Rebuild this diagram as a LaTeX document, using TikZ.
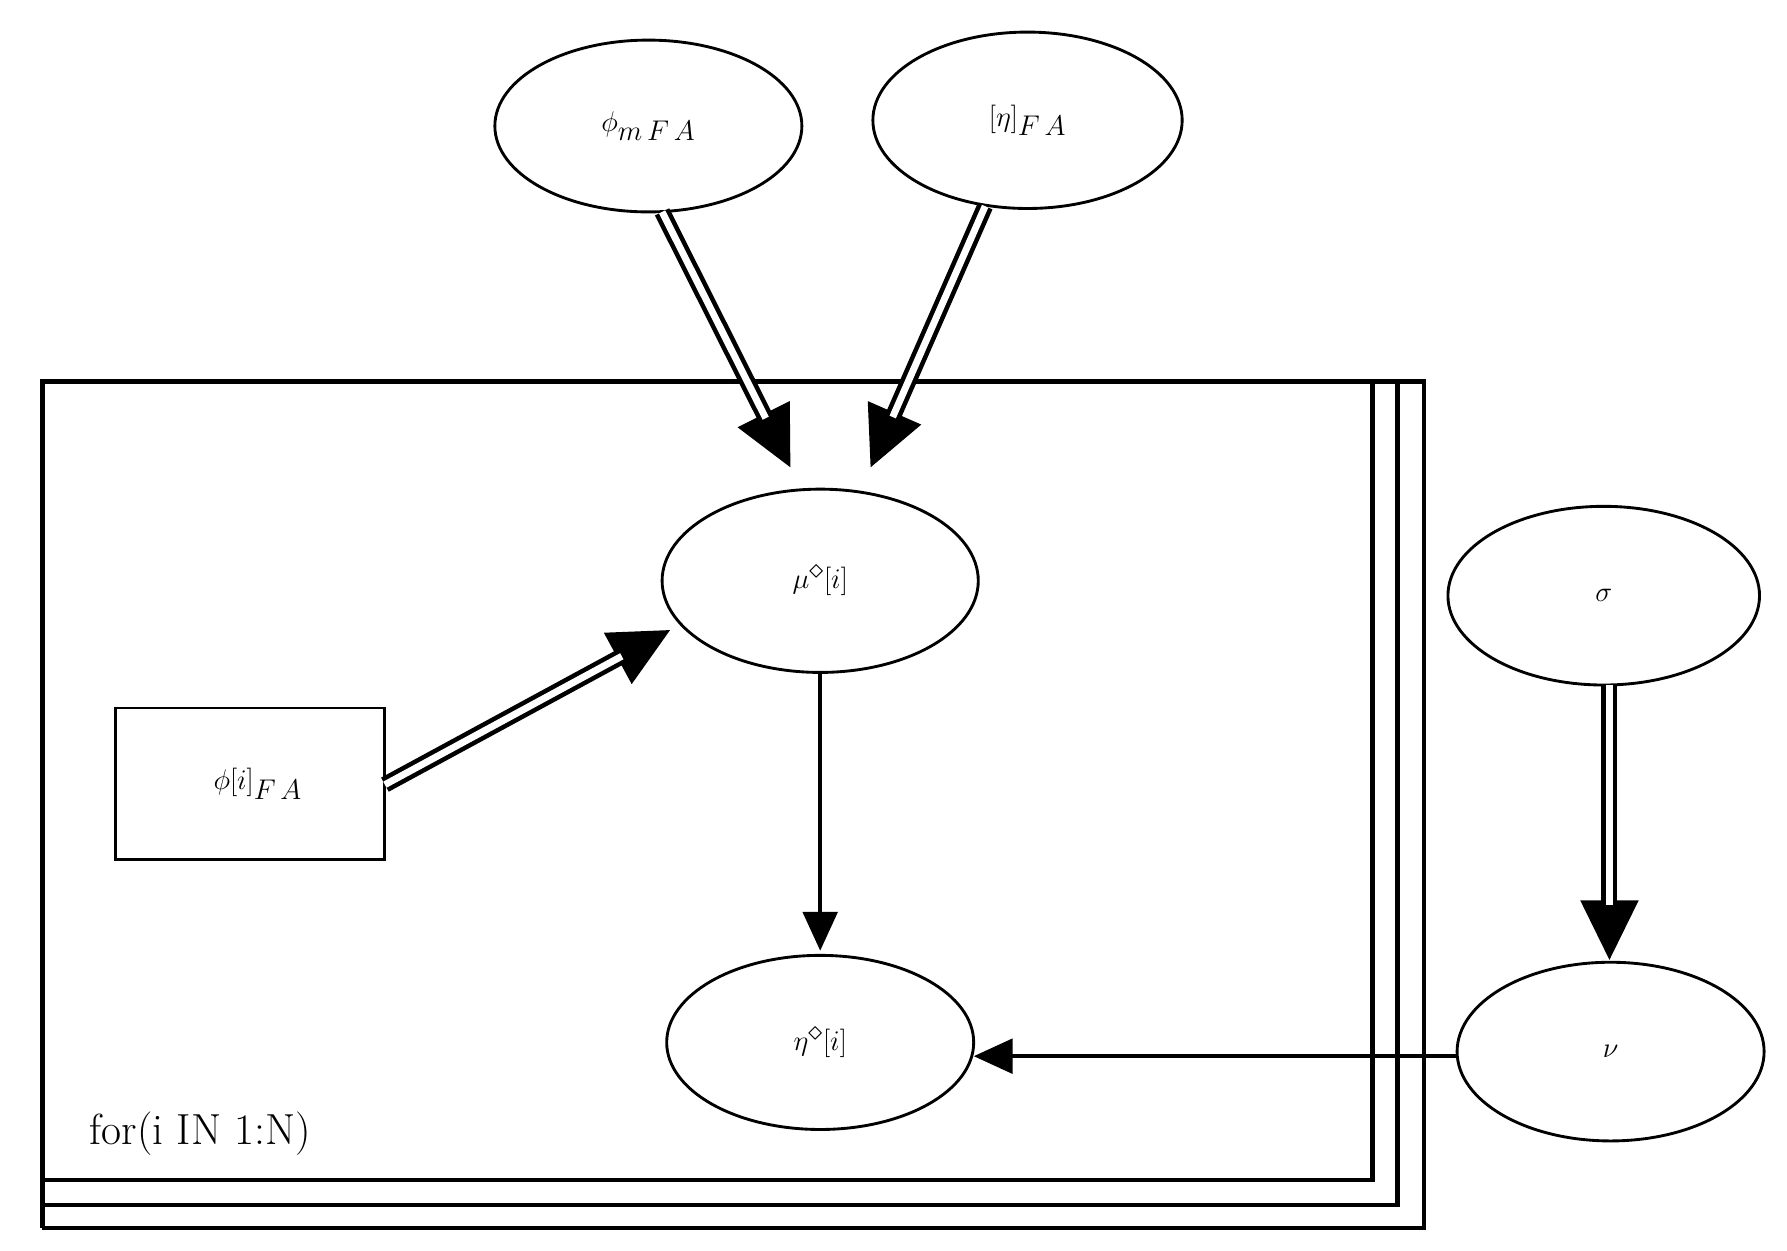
\documentclass[tikz,border=0pt]{standalone}
\usetikzlibrary{arrows.meta}
\begin{document}
\begin{tikzpicture}[x=1pt,y=-1pt,
  ell/.style={draw,ellipse,line width=2.5pt,minimum width=#1},
  lab/.style={font=\fontsize{44}{52}\selectfont},
  tip/.style={line width=4pt,-{Triangle[length=52pt,width=50pt]}},
  dbl/.style={line width=4pt,double,double distance=6pt,shorten >=48pt},
  sgl/.style={line width=4pt,-{Triangle[length=34pt,width=30pt]}}]
\useasboundingbox (0,0) rectangle (1560,1092);
\draw[line width=2.5pt] (566,110) ellipse [x radius=134,y radius=75];
\node[lab] (phim) at (566,110) {$\phi_{m\,F\,A}$};
\draw[line width=2.5pt] (897,105) ellipse [x radius=135,y radius=77];
\node[lab] (etafa) at (897,105) {$[\eta]_{F\,A}$};
\draw[line width=2.5pt] (716,507) ellipse [x radius=138,y radius=80];
\node[lab,font=\fontsize{54}{60}\selectfont] (mu) at (716,507) {$\mu^{\diamond}[i]$};
\draw[line width=2.5pt] (1400,520) ellipse [x radius=136,y radius=78];
\node[lab,font=\fontsize{60}{66}\selectfont] (sigma) at (1400,520) {$\sigma$};
\draw[line width=2.5pt] (1406,918) ellipse [x radius=134,y radius=78];
\node[lab,font=\fontsize{60}{66}\selectfont] (nu) at (1406,918) {$\nu$};
\draw[line width=2.5pt] (716,910) ellipse [x radius=134,y radius=76];
\node[lab,font=\fontsize{54}{60}\selectfont] (eta) at (716,910) {$\eta^{\diamond}[i]$};
\draw[line width=2.5pt] (101,618) rectangle (336,750);
\node[lab] (phii) at (225,684) {$\phi[i]_{F\,A}$};
% plate
\draw[line width=4pt] (37,333) rectangle (1198,1030);
\draw[line width=4pt] (37,1052) -- (1220,1052) -- (1220,333);
\draw[line width=4pt] (37,1072) -- (1243,1072) -- (1243,333) -- (1198,333);
\draw[line width=4pt] (37,1030) -- (37,1072);
\node[font=\fontsize{38}{44}\selectfont,anchor=west] (plab) at (75,990) {for(i IN 1:N)};
% connectors
\coordinate (a1) at (578,185); \coordinate (b1) at (690,408);
\coordinate (a2) at (860,180); \coordinate (b2) at (760,408);
\coordinate (a3) at (336,685); \coordinate (b3) at (585,550);
\coordinate (a4) at (1405,598); \coordinate (b4) at (1405,838);
\foreach \s/\e in {a1/b1,a2/b2,a3/b3,a4/b4}{
  \draw[tip] (\s) -- (\e);
  \draw[dbl] (\s) -- (\e);
}
\draw[sgl] (716,587) -- (716,830);
\draw[sgl] (1272,922) -- (850,922);
\end{tikzpicture}
\end{document}
